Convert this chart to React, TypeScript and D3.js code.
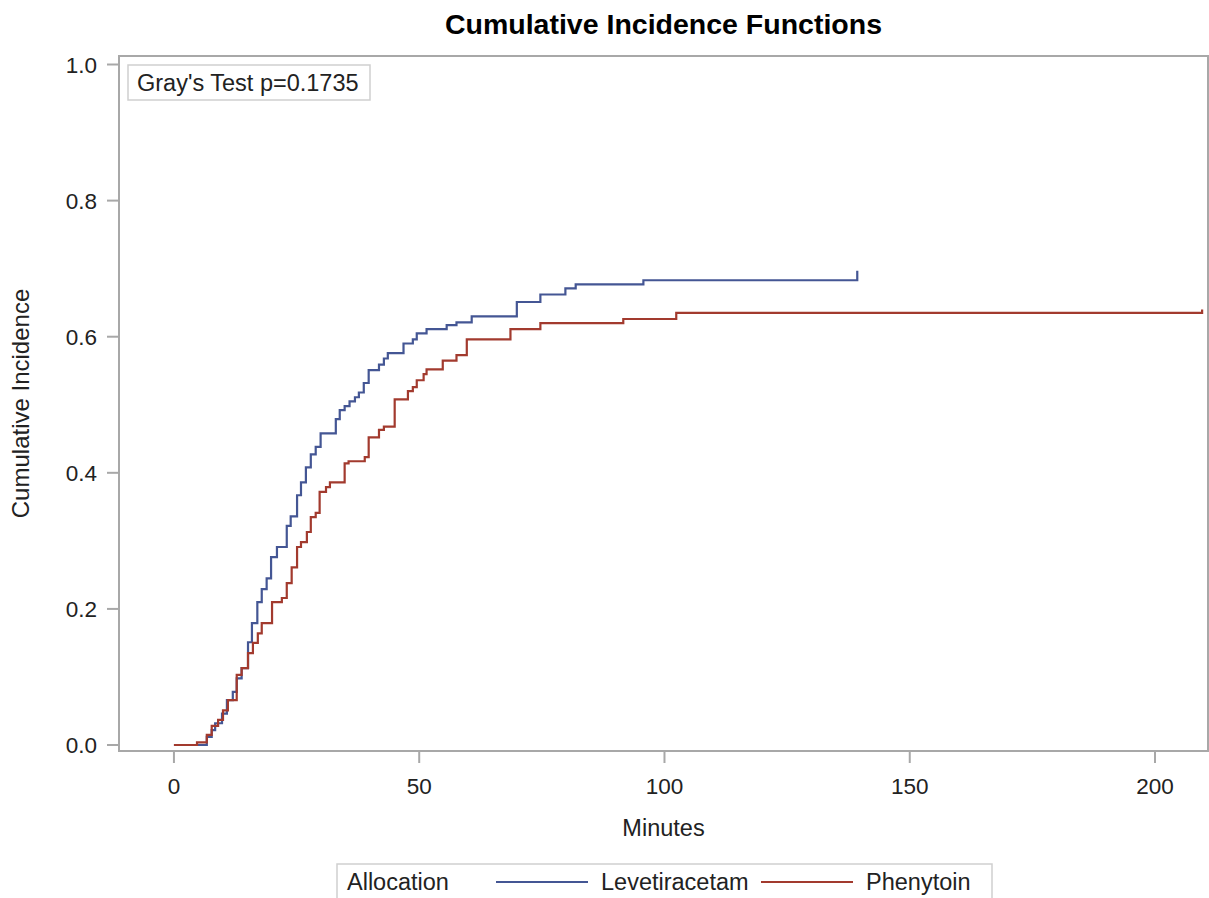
import { useRef, useEffect } from 'react';
import { select, scaleLinear, line, curveStepAfter } from 'd3';

// step points (minutes, cumulative incidence)
const levTimes = [0, 6.7, 7.7, 8.4, 9.8, 10.8, 12.0, 12.8, 13.8, 15.1, 15.9, 17.0, 17.9, 18.9, 19.8, 21.0, 23.0, 23.8, 25.1, 25.9, 26.9, 27.9, 28.9, 29.9, 33.0, 33.8, 34.8, 35.8, 36.9, 37.7, 38.7, 39.7, 41.8, 42.8, 43.6, 46.8, 48.7, 49.5, 51.5, 55.6, 57.6, 60.7, 69.9, 74.7, 79.8, 81.9, 95.7, 139.3];
const levCif = [0, 0.012, 0.022, 0.032, 0.046, 0.066, 0.078, 0.098, 0.113, 0.151, 0.179, 0.21, 0.229, 0.245, 0.276, 0.291, 0.322, 0.336, 0.367, 0.386, 0.408, 0.427, 0.438, 0.458, 0.479, 0.492, 0.498, 0.505, 0.511, 0.518, 0.532, 0.551, 0.559, 0.568, 0.576, 0.59, 0.596, 0.605, 0.611, 0.617, 0.621, 0.63, 0.651, 0.662, 0.671, 0.677, 0.683, 0.697];

const pheTimes = [0, 4.7, 6.7, 7.7, 9.0, 10.0, 11.0, 12.8, 13.8, 15.1, 16.1, 17.1, 17.9, 20.0, 22.0, 23.0, 24.0, 25.1, 25.9, 27.1, 27.9, 28.9, 29.7, 31.0, 31.8, 34.8, 35.6, 38.9, 39.7, 41.8, 42.8, 45.0, 47.7, 48.7, 49.5, 50.9, 51.5, 54.8, 57.6, 59.7, 68.6, 74.7, 91.6, 102.4, 209.6];
const pheCif = [0, 0.004, 0.015, 0.028, 0.037, 0.051, 0.066, 0.103, 0.113, 0.135, 0.15, 0.164, 0.179, 0.21, 0.216, 0.238, 0.261, 0.291, 0.298, 0.313, 0.335, 0.341, 0.372, 0.379, 0.386, 0.414, 0.417, 0.423, 0.452, 0.463, 0.468, 0.508, 0.52, 0.526, 0.536, 0.545, 0.552, 0.565, 0.573, 0.596, 0.611, 0.62, 0.626, 0.635, 0.64];

const xTicks = [0, 50, 100, 150, 200];
const yTicks = [0, 0.2, 0.4, 0.6, 0.8, 1.0];

const groups = ['Levetiracetam', 'Phenytoin'];
const colors = ['#445694', '#A23A2E'];

const W = 1209;
const H = 898;
const FONT = '"Liberation Sans", Arial, sans-serif';

const App = () => {
  const svgRef = useRef<SVGSVGElement | null>(null);

  useEffect(() => {
    const svg = select(svgRef.current);
    svg.selectAll('*').remove();

    const left = 119, right = 1208, top = 56, bottom = 751;

    const x = scaleLinear().domain([-11.2, 210.8]).range([left, right]);
    const y = scaleLinear().domain([-0.0088, 1.0125]).range([bottom, top]);

    // title
    svg.append('text')
      .attr('x', (left + right) / 2).attr('y', 34)
      .attr('text-anchor', 'middle')
      .attr('font-family', FONT).attr('font-weight', 'bold').attr('font-size', 28.5)
      .attr('fill', '#000')
      .text('Cumulative Incidence Functions');

    // frame
    svg.append('rect')
      .attr('x', left).attr('y', top)
      .attr('width', right - left).attr('height', bottom - top)
      .attr('fill', 'none').attr('stroke', '#a8a8a8').attr('stroke-width', 2);

    // y axis ticks + labels
    yTicks.forEach((t) => {
      svg.append('line')
        .attr('x1', left - 12).attr('x2', left)
        .attr('y1', y(t)).attr('y2', y(t))
        .attr('stroke', '#a8a8a8').attr('stroke-width', 2);
      svg.append('text')
        .attr('x', 97).attr('y', y(t) + 8)
        .attr('text-anchor', 'end')
        .attr('font-family', FONT).attr('font-size', 22.5).attr('fill', '#222')
        .text(t.toFixed(1));
    });

    // x axis ticks + labels
    xTicks.forEach((t) => {
      svg.append('line')
        .attr('x1', x(t)).attr('x2', x(t))
        .attr('y1', bottom).attr('y2', bottom + 12)
        .attr('stroke', '#a8a8a8').attr('stroke-width', 2);
      svg.append('text')
        .attr('x', x(t)).attr('y', 794)
        .attr('text-anchor', 'middle')
        .attr('font-family', FONT).attr('font-size', 22.5).attr('fill', '#222')
        .text(String(t));
    });

    // axis labels
    svg.append('text')
      .attr('x', (left + right) / 2).attr('y', 836)
      .attr('text-anchor', 'middle')
      .attr('font-family', FONT).attr('font-size', 23.5).attr('fill', '#222')
      .text('Minutes');
    svg.append('text')
      .attr('transform', `translate(29, ${(top + bottom) / 2}) rotate(-90)`)
      .attr('text-anchor', 'middle')
      .attr('font-family', FONT).attr('font-size', 24).attr('fill', '#222')
      .text('Cumulative Incidence');

    // step curves
    const step = line<[number, number]>()
      .x((d) => x(d[0]))
      .y((d) => y(d[1]))
      .curve(curveStepAfter);

    const series: [number, number][][] = [
      levTimes.map((t, i) => [t, levCif[i]]),
      pheTimes.map((t, i) => [t, pheCif[i]]),
    ];

    series.forEach((pts, i) => {
      svg.append('path')
        .attr('d', step(pts))
        .attr('fill', 'none')
        .attr('stroke', colors[i])
        .attr('stroke-width', 2.2);
    });

    // Gray's test inset
    svg.append('rect')
      .attr('x', 128).attr('y', 65).attr('width', 242).attr('height', 35)
      .attr('fill', '#fff').attr('stroke', '#cfcfcf').attr('stroke-width', 1.5);
    svg.append('text')
      .attr('x', 137).attr('y', 91)
      .attr('font-family', FONT).attr('font-size', 23.5).attr('fill', '#222')
      .text("Gray's Test p=0.1735");

    // legend
    const lg = svg.append('g');
    lg.append('rect')
      .attr('x', 337).attr('y', 864).attr('width', 655).attr('height', 36)
      .attr('fill', '#fff').attr('stroke', '#cfcfcf').attr('stroke-width', 1.5);
    lg.append('text')
      .attr('x', 347).attr('y', 890)
      .attr('font-family', FONT).attr('font-size', 23.5).attr('fill', '#222')
      .text('Allocation');
    const lineX = [496, 761];
    const textX = [601, 866];
    groups.forEach((g, i) => {
      lg.append('line')
        .attr('x1', lineX[i]).attr('x2', lineX[i] + 92)
        .attr('y1', 882).attr('y2', 882)
        .attr('stroke', colors[i]).attr('stroke-width', 2.2);
      lg.append('text')
        .attr('x', textX[i]).attr('y', 890)
        .attr('font-family', FONT).attr('font-size', 23.5).attr('fill', '#222')
        .text(g);
    });
  }, []);

  return (
    <svg
      ref={svgRef}
      width={W}
      height={H}
      style={{ position: 'absolute', left: 0, top: 0, background: '#fff' }}
    />
  );
};

export default App;
